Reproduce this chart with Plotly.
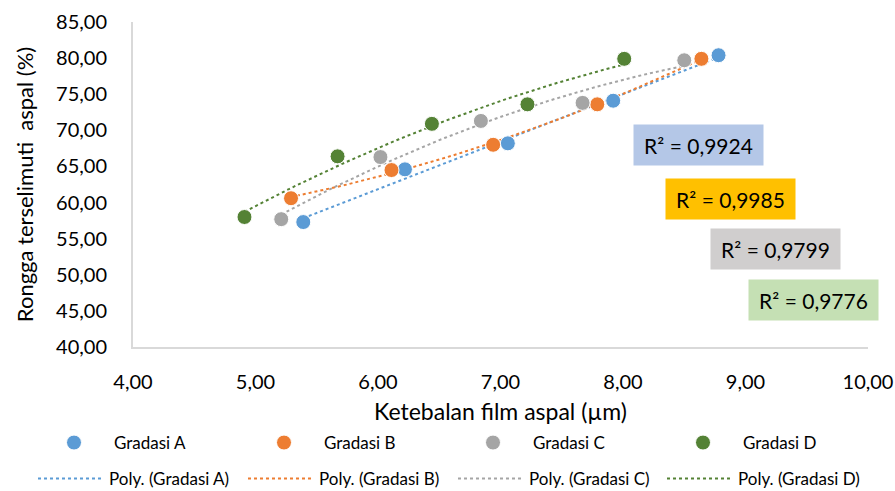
import numpy as np
import plotly.graph_objects as go

names = ["Gradasi A", "Gradasi B", "Gradasi C", "Gradasi D"]
colors = ["#5B9BD5", "#ED7D31", "#A5A5A5", "#548235"]

x_A = [5.39, 6.22, 7.06, 7.92, 8.78]
y_A = [57.3, 64.6, 68.2, 74.1, 80.4]
x_B = [5.29, 6.11, 6.94, 7.79, 8.64]
y_B = [60.6, 64.5, 68.0, 73.6, 79.9]
x_C = [5.21, 6.02, 6.84, 7.67, 8.50]
y_C = [57.7, 66.3, 71.3, 73.8, 79.7]
x_D = [4.91, 5.67, 6.44, 7.22, 8.01]
y_D = [58.0, 66.4, 70.9, 73.6, 79.9]

r2_labels = ["R² = 0,9924", "R² = 0,9985", "R² = 0,9799", "R² = 0,9776"]
r2_bg = ["#B4C7E7", "#FFC000", "#D0CECE", "#C5E0B4"]

x_ticks = [4, 5, 6, 7, 8, 9, 10]
x_ticktext = ["4,00", "5,00", "6,00", "7,00", "8,00", "9,00", "10,00"]
y_ticks = [40, 45, 50, 55, 60, 65, 70, 75, 80, 85]
y_ticktext = ["40,00", "45,00", "50,00", "55,00", "60,00", "65,00", "70,00", "75,00", "80,00", "85,00"]

xs = [x_A, x_B, x_C, x_D]
ys = [y_A, y_B, y_C, y_D]

FONT = "Lato"
W, H = 895, 491
L, R, T, B = 133, 27, 22, 144
pw, ph = W - L - R, H - T - B

def px(xpix):
    return (xpix - L) / pw

def py(ypix):
    return (H - B - ypix) / ph

# legend column offsets (pixels)
marker_leg_x = [34, 244, 453, 663]
line_leg_x = [33, 243, 453, 662]

fig = go.Figure()
legends = {}

# trendlines (drawn first, below markers)
for i, (n, c, x, y) in enumerate(zip(names, colors, xs, ys)):
    coef = np.polyfit(x, y, 2)
    xf = np.linspace(min(x), max(x), 60)
    yf = np.polyval(coef, xf)
    lname = f"legend{5 + i}"
    fig.add_trace(go.Scatter(x=xf, y=yf, mode="lines", name=f"Poly. ({n})",
                             line=dict(color=c, width=2, dash="dot"),
                             legend=lname, hoverinfo="skip", showlegend=True))
    legends[lname] = dict(orientation="h", xref="paper", yref="container",
                          x=px(line_leg_x[i]), xanchor="left", y=1 - 461 / H, yanchor="top",
                          itemwidth=66,
                          font=dict(family=FONT, size=17, color="#000000"),
                          bgcolor="rgba(0,0,0,0)")

for i, (n, c, x, y) in enumerate(zip(names, colors, xs, ys)):
    lname = "legend" if i == 0 else f"legend{1 + i}"
    fig.add_trace(go.Scatter(x=x, y=y, mode="markers", name=n,
                             marker=dict(color=c, size=15, line=dict(color="white", width=1)),
                             legend=lname, showlegend=True))
    legends[lname] = dict(orientation="h", xref="paper", yref="container",
                          x=px(marker_leg_x[i]), xanchor="left", y=1 - 425 / H, yanchor="top",
                          itemwidth=70,
                          font=dict(family=FONT, size=17, color="#000000"),
                          bgcolor="rgba(0,0,0,0)")

boxes = [(635, 762, 126, 164), (667, 794, 180, 218), (712, 839, 230, 268), (750, 877, 281, 319)]
for lab, bg, (x0, x1, y0, y1) in zip(r2_labels, r2_bg, boxes):
    fig.add_annotation(x=px((x0 + x1) / 2), y=py((y0 + y1) / 2), xref="paper", yref="paper",
                       text=lab, showarrow=False, bgcolor=bg, width=x1 - x0, height=y1 - y0,
                       xanchor="center", yanchor="middle",
                       font=dict(family=FONT, size=21, color="#000000"))

fig.update_layout(
    width=W, height=H,
    showlegend=True,
    margin=dict(l=L, r=R, t=T, b=B, autoexpand=False),
    plot_bgcolor="white", paper_bgcolor="white",
    font=dict(family=FONT, color="#000000"),
    xaxis=dict(range=[4, 10], tickvals=x_ticks, ticktext=x_ticktext, showgrid=False,
               zeroline=False, showline=True, linecolor="#D9D9D9", linewidth=2,
               ticks="", ticklabelstandoff=16, automargin=False,
               tickfont=dict(family=FONT, size=20, color="#000000"),
               title=dict(text="Ketebalan film aspal (µm)", standoff=12,
                          font=dict(family=FONT, size=23, color="#000000"))),
    yaxis=dict(range=[40, 85], tickvals=y_ticks, ticktext=y_ticktext, showgrid=False,
               zeroline=False, showline=True, linecolor="#D9D9D9", linewidth=2,
               ticks="", ticklabelstandoff=20, automargin=False,
               tickfont=dict(family=FONT, size=20, color="#000000"),
               title=dict(text="Rongga terselimuti  aspal (%)", standoff=16,
                          font=dict(family=FONT, size=22, color="#000000"))),
    **legends,
)

fig.write_html("out.html", config={"displayModeBar": False},
               post_script="document.body.style.margin='0';document.body.style.overflow='hidden';")
